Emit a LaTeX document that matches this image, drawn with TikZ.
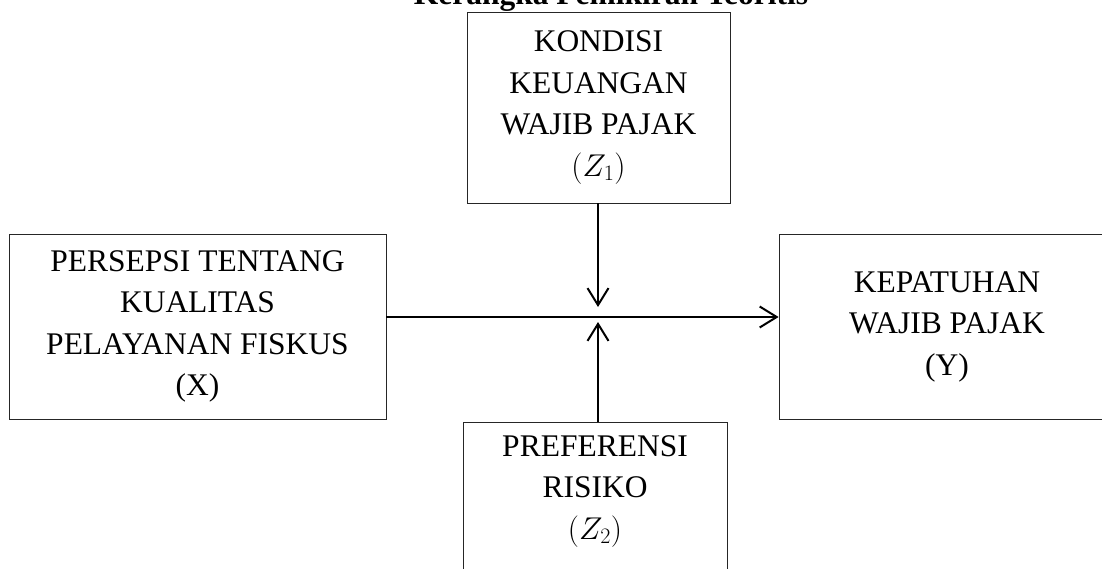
\RequirePackage{fix-cm}
\documentclass[tikz,border=0pt]{standalone}
\usepackage{fontspec}
\setmainfont{Liberation Serif}
\usetikzlibrary{arrows.meta}
\tikzset{
  box/.style={draw=black!85, line width=0.8pt, align=center, inner sep=0pt,
    font=\fontsize{31.5}{41.5}\selectfont},
  conn/.style={line width=2pt, -{Straight Barb[length=17pt,width=21pt,line width=2pt]}}
}
\begin{document}
\begin{tikzpicture}[x=1pt,y=-1pt]
\useasboundingbox (0,0) rectangle (1102,569);
\clip (0,0) rectangle (1102,569);
\node[font=\fontsize{31.5}{41.5}\selectfont\bfseries, anchor=base] (title) at (611,5) {Kerangka Pemikiran Teoritis};
\node[box, minimum width=263pt, minimum height=191pt] (z1) at (598.5,107.5)
  {KONDISI\\KEUANGAN\\WAJIB PAJAK\\$(Z_1)$};
\node[box, minimum width=377pt, minimum height=185pt] (x) at (197.5,326.5)
  {PERSEPSI TENTANG\\KUALITAS\\PELAYANAN FISKUS\\(X)};
\node[box, minimum width=336pt, minimum height=185pt] (y) at (947,326.5)
  {KEPATUHAN\\WAJIB PAJAK\\(Y)};
\node[box, minimum width=264pt, inner ysep=13pt, text depth=60pt, anchor=north] (z2) at (595,422)
  {PREFERENSI\\RISIKO\\$(Z_2)$};
\coordinate (m) at (598,317);
\coordinate (mt) at (598,307);
\coordinate (mb) at (598,322);
\draw[conn] (x.east |- m) -- (y.west |- m);
\draw[conn] (z1.south -| mt) -- (mt);
\draw[conn] (z2.north -| mb) -- (mb);
\end{tikzpicture}
\end{document}
